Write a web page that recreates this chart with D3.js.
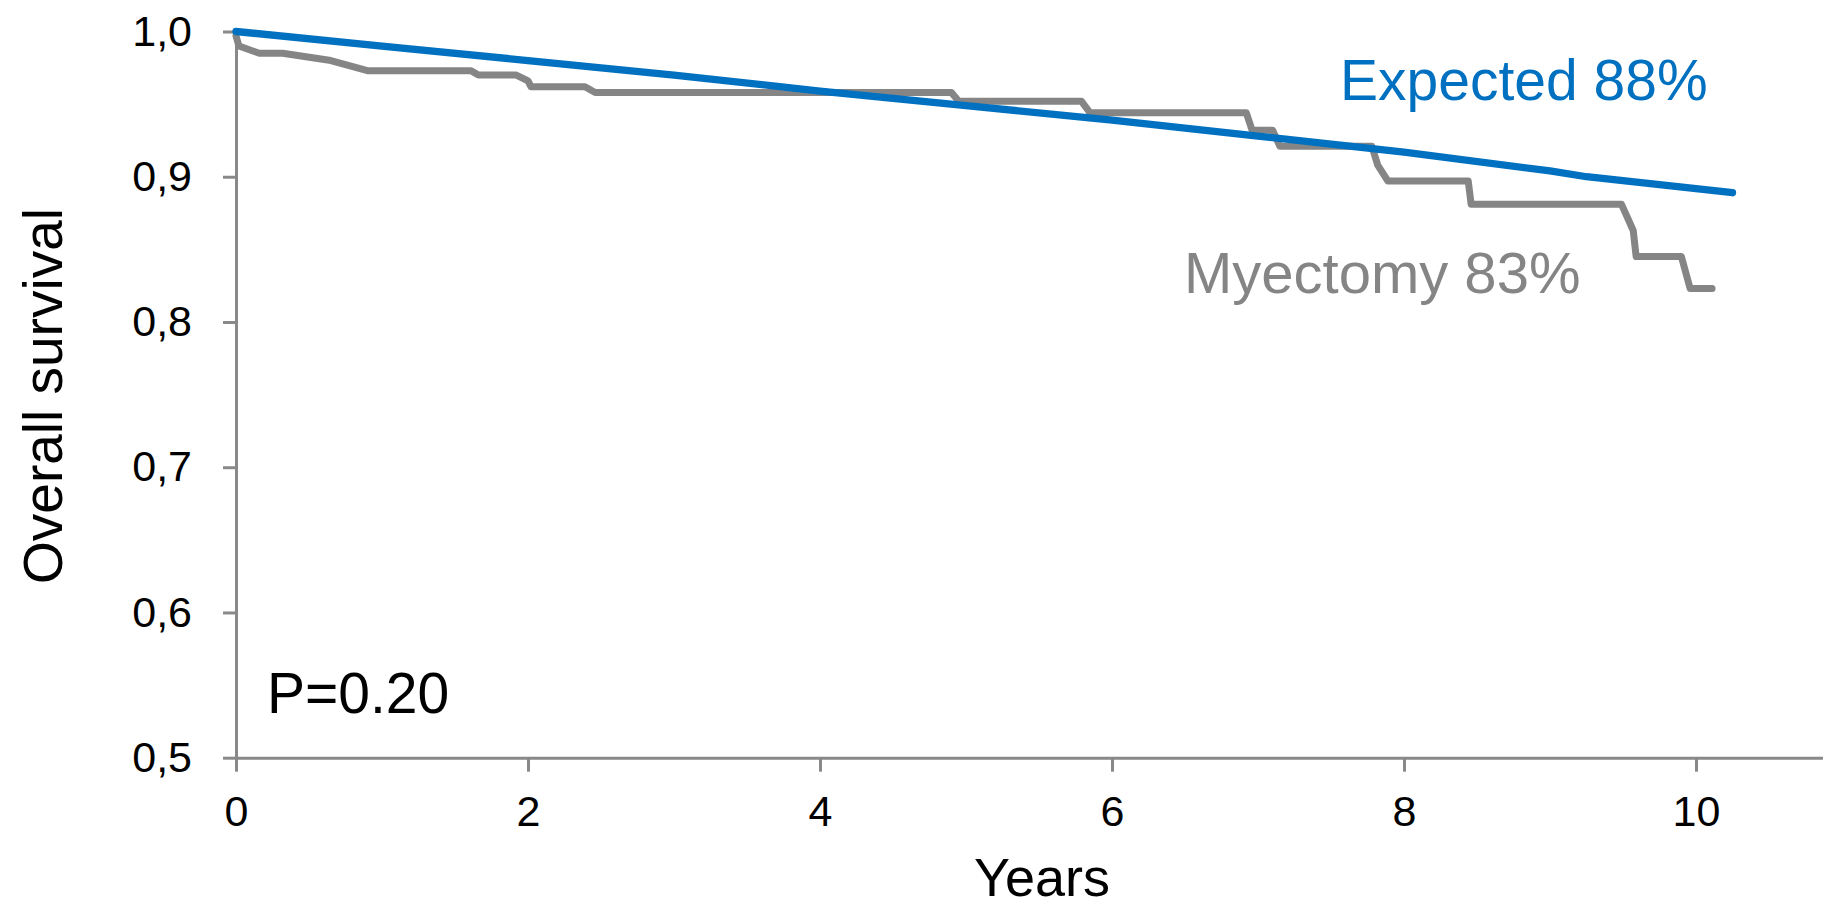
<!DOCTYPE html>
<html>
<head>
<meta charset="utf-8">
<script src="https://cdn.jsdelivr.net/npm/d3@7"></script>
<style>
  html, body { margin: 0; padding: 0; background: #fff; }
  svg { display: block; font-family: "Liberation Sans", Arial, sans-serif; }
  .axis path, .axis line { stroke: #898989; stroke-width: 3; }
  .axis text { fill: #000; font-size: 43px; font-family: "Liberation Sans", Arial, sans-serif; }
</style>
</head>
<body>
<svg width="1823" height="906"></svg>
<script>
// values
var xTicks = [0, 2, 4, 6, 8, 10],
    yTicks = [0.5, 0.6, 0.7, 0.8, 0.9, 1.0];

var expectedYears    = [0, 1, 2, 3, 4, 5, 6, 7, 8, 9, 9.25, 10.25],
    expectedSurvival = [1.000, 0.990, 0.980, 0.970, 0.959, 0.949, 0.939, 0.928, 0.917, 0.904, 0.900, 0.889];

var myectomyYears    = [0, 0.02, 0.16, 0.32, 0.65, 0.90, 1.61, 1.66, 1.92, 2.00, 2.02, 2.39, 2.46,
                        4.90, 4.95, 5.79, 5.85, 6.92, 6.96, 7.10, 7.15, 7.78, 7.82, 7.89, 8.44, 8.46,
                        9.49, 9.57, 9.59, 9.90, 9.96, 10.11],
    myectomySurvival = [0.997, 0.990, 0.985, 0.985, 0.980, 0.973, 0.973, 0.970, 0.970, 0.966, 0.962, 0.962, 0.958,
                        0.958, 0.952, 0.952, 0.944, 0.944, 0.932, 0.932, 0.921, 0.921, 0.908, 0.897, 0.897, 0.881,
                        0.881, 0.863, 0.845, 0.845, 0.823, 0.823];

var expectedLabel = "Expected 88%",
    myectomyLabel = "Myectomy 83%",
    pLabel = "P=0.20",
    xTitle = "Years",
    yTitle = "Overall survival";

var svg = d3.select("svg");

var x = d3.scaleLinear().domain([0, 11]).range([236, 1842]),
    y = d3.scaleLinear().domain([0.5, 1.0]).range([757.7, 31.5]);

var xAxis = d3.axisBottom(x)
    .tickValues(xTicks)
    .tickSize(14)
    .tickSizeOuter(0)
    .tickPadding(24)
    .tickFormat(d3.format("d"));

var yAxis = d3.axisLeft(y)
    .tickValues(yTicks)
    .tickSize(13)
    .tickSizeOuter(0)
    .tickPadding(31)
    .tickFormat(function(d) { return d3.format(".1f")(d).replace(".", ","); });

svg.append("g")
    .attr("class", "axis axis--y")
    .attr("transform", "translate(" + x(0) + ",0)")
    .call(yAxis);

svg.append("g")
    .attr("class", "axis axis--x")
    .attr("transform", "translate(0," + y(0.5) + ")")
    .call(xAxis);

var line = d3.line()
    .x(function(d) { return x(d[0]); })
    .y(function(d) { return y(d[1]); });

svg.append("path")
    .datum(d3.zip(myectomyYears, myectomySurvival))
    .attr("fill", "none")
    .attr("stroke", "#858585")
    .attr("stroke-width", 7)
    .attr("stroke-linejoin", "round")
    .attr("stroke-linecap", "round")
    .attr("d", line);

svg.append("path")
    .datum(d3.zip(expectedYears, expectedSurvival))
    .attr("fill", "none")
    .attr("stroke", "#0070C0")
    .attr("stroke-width", 7.3)
    .attr("stroke-linejoin", "round")
    .attr("stroke-linecap", "round")
    .attr("d", line);

// labels
svg.append("text")
    .attr("x", 1340)
    .attr("y", 100)
    .attr("fill", "#0070C0")
    .style("font-size", "57px")
    .text(expectedLabel);

svg.append("text")
    .attr("x", 1184)
    .attr("y", 293)
    .attr("fill", "#858585")
    .style("font-size", "58px")
    .text(myectomyLabel);

svg.append("text")
    .attr("x", 267)
    .attr("y", 713)
    .attr("fill", "#000")
    .style("font-size", "57px")
    .text(pLabel);

svg.append("text")
    .attr("x", 1042)
    .attr("y", 896)
    .attr("text-anchor", "middle")
    .attr("fill", "#000")
    .style("font-size", "54px")
    .text(xTitle);

svg.append("text")
    .attr("transform", "translate(62,396) rotate(-90)")
    .attr("text-anchor", "middle")
    .attr("fill", "#000")
    .style("font-size", "55px")
    .text(yTitle);
</script>
</body>
</html>
